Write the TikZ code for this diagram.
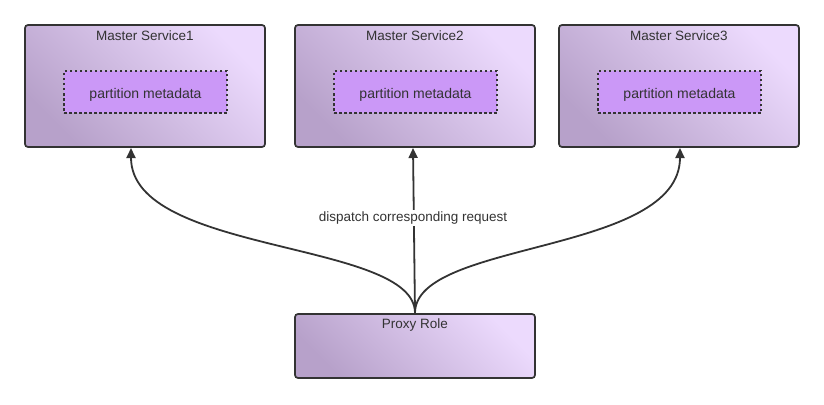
\documentclass[tikz,border=0pt]{standalone}
\usepackage{fontspec}
\setmainfont{Liberation Sans}
\usetikzlibrary{arrows.meta}
\definecolor{gdark}{HTML}{B7A1CA}
\definecolor{glight}{HTML}{ECDAFD}
\definecolor{inner}{HTML}{CB98F7}
\definecolor{ink}{HTML}{333333}
\tikzset{
  svc/.style={draw=ink, line width=1.7pt, rounded corners=3pt, left color=gdark, right color=glight, shading angle=135},
  meta/.style={draw=ink, line width=1.5pt, dash pattern=on 2.5pt off 2.5pt, fill=inner, minimum width=163pt, minimum height=42pt, inner sep=0pt, text=ink},
  metatext/.style={font=\fontsize{14}{16}\selectfont, text=ink, inner sep=0pt},
  ttl/.style={font=\fontsize{13.5}{15}\selectfont, text=ink, inner sep=0pt},
  conn/.style={draw=ink, line width=1.8pt, -{Triangle[length=10pt,width=9pt]}},
}
\begin{document}
\begin{tikzpicture}[x=1pt,y=-1pt]
\useasboundingbox (0,0) rectangle (824,404);
% service boxes
\path[svc] (25,25) rectangle (265,147);
\path[svc] (295,25) rectangle (535,147);
\path[svc] (559,25) rectangle (799,147);
\path[svc] (295,314) rectangle (535,378);
\coordinate (s1) at (131,148);
\coordinate (s2) at (413,148);
\coordinate (s3) at (680,148);
\coordinate (p) at (415,313);
\node[ttl] (t1) at (145,36) {Master Service1};
\node[ttl] (t2) at (415,36) {Master Service2};
\node[ttl] (t3) at (679,36) {Master Service3};
\node[ttl] (tp) at (415,325) {Proxy Role};
\node[meta] (m1) at (145.5,92) {};
\node[meta] (m2) at (415.5,92) {};
\node[meta] (m3) at (679.5,92) {};
\node[metatext] (mt1) at (145.5,95) {partition metadata};
\node[metatext] (mt2) at (415.5,95) {partition metadata};
\node[metatext] (mt3) at (679.5,95) {partition metadata};
% connectors
\draw[conn] (p) .. controls (415,240) and (131,255) .. (s1);
\draw[conn] (p) .. controls (415,240) and (680,255) .. (s3);
\draw[conn] (p) -- (s2);
\node[ttl, fill=white, inner sep=2pt] (lbl) at (413,218) {dispatch corresponding request};
\end{tikzpicture}
\end{document}
